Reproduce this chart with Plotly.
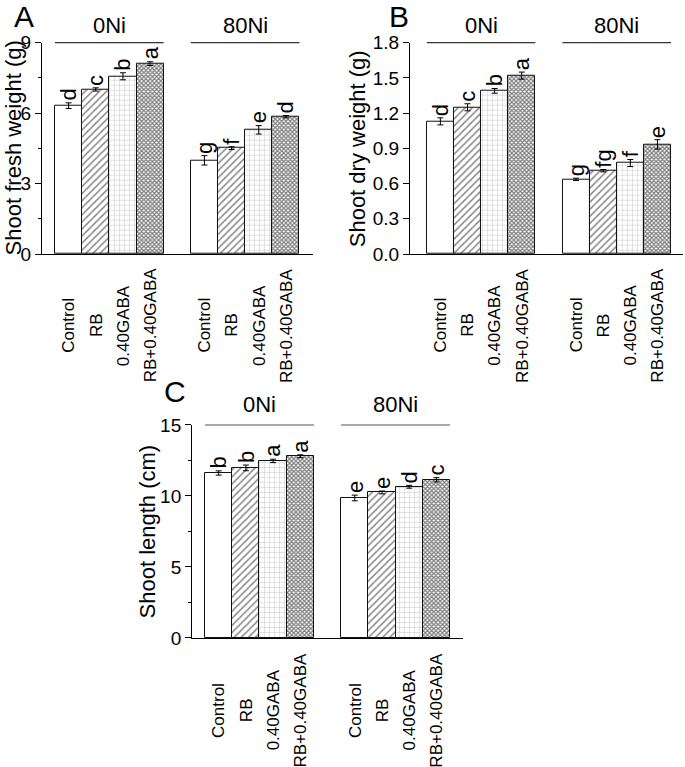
import plotly.graph_objects as go

groups = ["0Ni", "80Ni"]
treatments = ["Control", "RB", "0.40GABA", "RB+0.40GABA"]

# Panel A: shoot fresh weight (g)
fresh_0Ni = [6.32, 7.01, 7.57, 8.11]
fresh_0Ni_err = [0.12, 0.07, 0.15, 0.08]
fresh_80Ni = [3.99, 4.51, 5.29, 5.85]
fresh_80Ni_err = [0.20, 0.06, 0.18, 0.05]
fresh_letters_0Ni = ["d", "c", "b", "a"]
fresh_letters_80Ni = ["g", "f", "e", "d"]

# Panel B: shoot dry weight (g)
dry_0Ni = [1.13, 1.25, 1.39, 1.52]
dry_0Ni_err = [0.03, 0.03, 0.02, 0.03]
dry_80Ni = [0.636, 0.710, 0.775, 0.934]
dry_80Ni_err = [0.01, 0.01, 0.03, 0.04]
dry_letters_0Ni = ["d", "c", "b", "a"]
dry_letters_80Ni = ["g", "fg", "f", "e"]

# Panel C: shoot length (cm)
len_0Ni = [11.62, 11.98, 12.47, 12.80]
len_0Ni_err = [0.15, 0.20, 0.12, 0.10]
len_80Ni = [9.86, 10.25, 10.65, 11.14]
len_80Ni_err = [0.20, 0.10, 0.10, 0.15]
len_letters_0Ni = ["b", "b", "a", "a"]
len_letters_80Ni = ["e", "e", "d", "c"]

FONT = "Liberation Sans, Arial, sans-serif"

styles = {
    "Control": dict(shape="", fg="black", size=8, sol=0.2),
    "RB": dict(shape="/", fg="#111111", size=5, sol=0.3),
    "0.40GABA": dict(shape="+", fg="#a8a8a8", size=5, sol=0.25),
    "RB+0.40GABA": dict(shape="x", fg="#000000", size=3, sol=0.65),
}

panels = [
    dict(label="A", xa="x", ya="y", title="Shoot fresh weight (g)",
         vals=[fresh_0Ni, fresh_80Ni], errs=[fresh_0Ni_err, fresh_80Ni_err],
         letters=[fresh_letters_0Ni, fresh_letters_80Ni],
         xdom=[0.0613, 0.457], ydom=[0.6688, 0.9443], xr=[-0.98, 9.0],
         yr=[0, 9], dtick=3, minor=1.5, fmt="", label_xy=(0.035, 0.979),
         title_x=0.019, head_y=0.967, xlab_y=0.576, head_color="black"),
    dict(label="B", xa="x2", ya="y2", title="Shoot dry weight (g)",
         vals=[dry_0Ni, dry_80Ni], errs=[dry_0Ni_err, dry_80Ni_err],
         letters=[dry_letters_0Ni, dry_letters_80Ni],
         xdom=[0.5985, 0.997], ydom=[0.6688, 0.9443], xr=[-1.12, 8.94],
         yr=[0, 1.8], dtick=0.3, minor=None, fmt=".1f", label_xy=(0.582, 0.979),
         title_x=0.521, head_y=0.967, xlab_y=0.576, head_color="black"),
    dict(label="C", xa="x3", ya="y3", title="Shoot length (cm)",
         vals=[len_0Ni, len_80Ni], errs=[len_0Ni_err, len_80Ni_err],
         letters=[len_letters_0Ni, len_letters_80Ni],
         xdom=[0.2803, 0.676], ydom=[0.1682, 0.4459], xr=[-0.98, 8.98],
         yr=[0, 15], dtick=5, minor=2.5, fmt="", label_xy=(0.255, 0.49),
         title_x=0.216, head_y=0.472, xlab_y=0.074, head_color="#555555"),
]

fig = go.Figure()
annotations = []
shapes = []
layout = {}
n = len(treatments)

for p in panels:
    for ti, t in enumerate(treatments):
        xs = [gi * (n + 1) + ti for gi in range(len(groups))]
        ys = [p["vals"][gi][ti] for gi in range(len(groups))]
        es = [p["errs"][gi][ti] for gi in range(len(groups))]
        st = styles[t]
        fig.add_trace(go.Bar(
            x=xs, y=ys, width=1, xaxis=p["xa"], yaxis=p["ya"], showlegend=False,
            marker=dict(color="white", line=dict(color="#111111", width=1),
                        pattern=dict(shape=st["shape"], fgcolor=st["fg"], bgcolor="white",
                                     size=st["size"], solidity=st["sol"])),
            error_y=dict(type="data", array=es, color="black", thickness=1, width=3),
        ))
        for gi in range(len(groups)):
            annotations.append(dict(
                x=xs[gi], y=ys[gi] + es[gi], xref=p["xa"], yref=p["ya"],
                text=p["letters"][gi][ti], textangle=-90, showarrow=False,
                xanchor="center", yanchor="bottom", yshift=0,
                font=dict(family=FONT, size=22, color="black")))
            annotations.append(dict(
                x=xs[gi], y=p["xlab_y"], xref=p["xa"], yref="paper",
                text=t, textangle=-90, showarrow=False,
                xanchor="center", yanchor="middle",
                font=dict(family=FONT, size=17, color="black")))
    for gi, g in enumerate(groups):
        x0 = gi * (n + 1) - 0.5
        x1 = gi * (n + 1) + n - 0.5
        shapes.append(dict(type="line", xref=p["xa"], yref=p["ya"] + " domain",
                           x0=x0, x1=x1, y0=1, y1=1,
                           line=dict(color=p["head_color"], width=1)))
        annotations.append(dict(
            x=(x0 + x1) / 2, y=p["head_y"], xref=p["xa"], yref="paper", text=g,
            showarrow=False, xanchor="center", yanchor="middle",
            font=dict(family=FONT, size=22, color="black")))
    annotations.append(dict(
        x=p["label_xy"][0], y=p["label_xy"][1], xref="paper", yref="paper",
        text=p["label"], showarrow=False, xanchor="center", yanchor="middle",
        font=dict(family=FONT, size=30, color="black")))
    annotations.append(dict(
        x=p["title_x"], y=sum(p["ydom"]) / 2, xref="paper", yref="paper",
        text=p["title"], textangle=-90, showarrow=False,
        xanchor="center", yanchor="middle",
        font=dict(family=FONT, size=22, color="black")))

    xkey = "xaxis" + p["xa"][1:]
    ykey = "yaxis" + p["ya"][1:]
    layout[xkey] = dict(domain=p["xdom"], range=p["xr"], anchor=p["ya"], automargin=False,
                        showline=True, linecolor="black", linewidth=1,
                        ticks="", showticklabels=False, showgrid=False, zeroline=False)
    ydict = dict(domain=p["ydom"], range=p["yr"], anchor=p["xa"], dtick=p["dtick"], tick0=0,
                 automargin=False,
                 showline=True, linecolor="black", linewidth=1,
                 ticks="outside", ticklen=6, tickwidth=1, tickcolor="black",
                 showgrid=False, zeroline=False,
                 tickfont=dict(family=FONT, size=19, color="black"))
    if p["fmt"]:
        ydict["tickformat"] = p["fmt"]
    if p["minor"]:
        ydict["minor"] = dict(dtick=p["minor"], tick0=0, ticks="outside", ticklen=3,
                              tickcolor="black", showgrid=False)
    layout[ykey] = ydict

fig.update_layout(**layout)
fig.update_layout(width=685, height=767, margin=dict(l=0, r=0, t=0, b=0),
                  paper_bgcolor="white", plot_bgcolor="white",
                  annotations=annotations, shapes=shapes, bargap=0,
                  font=dict(family=FONT, color="black"))
fig.write_html("out.html", config={"displayModeBar": False},
               post_script="document.body.style.margin='0';document.body.style.overflow='hidden';")
